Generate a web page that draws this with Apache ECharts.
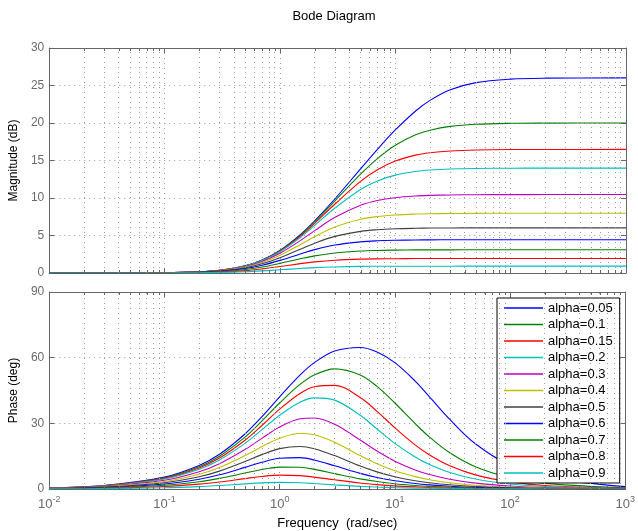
<!DOCTYPE html>
<html>
<head>
<meta charset="utf-8">
<script src="https://cdn.jsdelivr.net/npm/echarts@6/dist/echarts.min.js"></script>
<style>
  html, body { margin: 0; padding: 0; background: #fff; }
  #chart { width: 638px; height: 531px; }
</style>
</head>
<body>
<div id="chart"></div>
<script>
// Frequency samples (rad/sec)
const freq = [0.01,0.03,0.1,0.2,0.3,0.5,0.7,1,1.5,2,3,5,7,10,15,20,30,50,100,200,1000];

const alphaNames = ['alpha=0.05','alpha=0.1','alpha=0.15','alpha=0.2','alpha=0.3','alpha=0.4','alpha=0.5','alpha=0.6','alpha=0.7','alpha=0.8','alpha=0.9'];

// Magnitude (dB)
const mag005 = [0.00,0.00,0.04,0.17,0.37,0.97,1.73,3.00,5.10,6.95,9.90,13.89,16.49,19.07,21.60,23.02,24.43,25.38,25.85,25.98,26.02];
const mag01  = [0.00,0.00,0.04,0.17,0.37,0.96,1.71,2.97,5.02,6.82,9.63,13.18,15.26,17.03,18.42,19.04,19.55,19.83,19.96,19.99,20.00];
const mag015 = [0.00,0.00,0.04,0.17,0.37,0.94,1.68,2.91,4.90,6.62,9.20,12.21,13.76,14.92,15.72,16.03,16.27,16.40,16.46,16.47,16.48];
const mag02  = [0.00,0.00,0.04,0.16,0.36,0.93,1.65,2.84,4.74,6.35,8.66,11.14,12.28,13.05,13.54,13.73,13.87,13.94,13.97,13.98,13.98];
const mag03  = [0.00,0.00,0.04,0.15,0.34,0.87,1.54,2.64,4.32,5.65,7.42,9.03,9.66,10.04,10.27,10.35,10.41,10.44,10.45,10.46,10.46];
const mag04  = [0.00,0.00,0.04,0.14,0.31,0.80,1.40,2.37,3.78,4.84,6.13,7.16,7.53,7.74,7.86,7.90,7.93,7.95,7.96,7.96,7.96];
const mag05  = [0.00,0.00,0.03,0.13,0.28,0.71,1.23,2.04,3.18,3.98,4.88,5.55,5.77,5.89,5.96,5.99,6.01,6.02,6.02,6.02,6.02];
const mag06  = [0.00,0.00,0.03,0.11,0.24,0.60,1.03,1.68,2.54,3.12,3.73,4.15,4.29,4.36,4.40,4.42,4.43,4.43,4.44,4.44,4.44];
const mag07  = [0.00,0.00,0.02,0.09,0.19,0.47,0.80,1.28,1.89,2.28,2.67,2.93,3.01,3.05,3.08,3.09,3.09,3.10,3.10,3.10,3.10];
const mag08  = [0.00,0.00,0.02,0.06,0.13,0.32,0.55,0.86,1.25,1.48,1.70,1.85,1.89,1.91,1.93,1.93,1.94,1.94,1.94,1.94,1.94];
const mag09  = [0.00,0.00,0.01,0.03,0.07,0.17,0.28,0.43,0.61,0.72,0.81,0.88,0.90,0.91,0.91,0.91,0.91,0.92,0.92,0.92,0.92];

// Phase (deg)
const ph005 = [0.54,1.63,5.43,10.74,15.84,25.13,32.99,42.14,52.02,57.72,63.03,64.65,62.58,57.72,49.32,42.14,31.78,20.66,10.74,5.43,1.09];
const ph01  = [0.52,1.55,5.14,10.16,14.98,23.70,30.99,39.29,47.78,52.12,54.87,52.13,46.88,39.29,29.88,23.70,16.53,10.16,5.14,2.58,0.52];
const ph015 = [0.49,1.46,4.85,9.59,14.12,22.28,29.00,36.47,43.63,46.74,47.34,41.82,35.47,27.98,20.15,15.57,10.62,6.45,3.24,1.62,0.33];
const ph02  = [0.46,1.37,4.57,9.02,13.27,20.85,27.02,33.69,39.61,41.63,40.60,33.69,27.41,20.85,14.62,11.17,7.55,4.57,2.29,1.15,0.23];
const ph03  = [0.40,1.20,3.99,7.88,11.56,18.03,23.13,28.30,32.08,32.47,29.58,22.38,17.33,12.72,8.72,6.60,4.43,2.67,1.34,0.67,0.13];
const ph04  = [0.34,1.03,3.42,6.74,9.86,15.26,19.35,23.20,25.35,24.78,21.37,15.26,11.52,8.33,5.65,4.26,2.86,1.72,0.86,0.43,0.09];
const ph05  = [0.29,0.86,2.85,5.60,8.17,12.53,15.70,18.44,19.44,18.43,15.26,10.49,7.82,5.60,3.78,2.85,1.91,1.15,0.57,0.29,0.06];
const ph06  = [0.23,0.69,2.28,4.47,6.50,9.87,12.21,14.04,14.32,13.24,10.62,7.13,5.26,3.75,2.53,1.90,1.27,0.76,0.38,0.19,0.04];
const ph07  = [0.17,0.52,1.71,3.34,4.84,7.28,8.89,10.01,9.91,8.97,7.03,4.64,3.41,2.42,1.63,1.22,0.82,0.49,0.25,0.12,0.03];
const ph08  = [0.11,0.34,1.14,2.22,3.20,4.76,5.74,6.34,6.12,5.44,4.19,2.73,2.00,1.41,0.95,0.71,0.48,0.29,0.14,0.07,0.02];
const ph09  = [0.06,0.17,0.57,1.11,1.59,2.34,2.78,3.01,2.84,2.49,1.89,1.22,0.89,0.63,0.42,0.32,0.21,0.13,0.06,0.03,0.01];

const magSets = [mag005,mag01,mag015,mag02,mag03,mag04,mag05,mag06,mag07,mag08,mag09];
const phSets  = [ph005,ph01,ph015,ph02,ph03,ph04,ph05,ph06,ph07,ph08,ph09];

const colors = ['#0000ff','#008000','#ff0000','#00bfbf','#bf00bf','#bfbf00','#404040','#0000ff','#008000','#ff0000','#00bfbf'];

const FONT = 'Liberation Sans, Arial, Helvetica, sans-serif';
const axisGrey = '#666666';
const labelGrey = '#6a6a6a';
const gridDot = { color: '#9a9a9a', width: 1, type: [1, 4] };

// minor (2..9 per decade) vertical grid positions
const minorX = [];
for (let e = -2; e <= 2; e++) {
  for (let m = 2; m <= 9; m++) minorX.push(+(m * Math.pow(10, e)).toPrecision(3));
}

function decadeLabel(v) {
  const e = Math.round(Math.log10(v));
  return '{b|10}{e|' + e + '}';
}

const xBase = {
  type: 'log', logBase: 10, min: 0.01, max: 1000,
  axisLine: { show: true, onZero: false, lineStyle: { color: axisGrey, width: 1 } },
  axisTick: { show: true, inside: true, length: 5, lineStyle: { color: axisGrey } },
  splitLine: { show: true, lineStyle: gridDot }
};

const series = [];
for (let i = 0; i < alphaNames.length; i++) {
  series.push({
    name: alphaNames[i], type: 'line', xAxisIndex: 0, yAxisIndex: 0,
    data: freq.map((f, k) => [f, magSets[i][k]]),
    symbol: 'none', smooth: 0.35, lineStyle: { width: 1.1, color: colors[i] },
    itemStyle: { color: colors[i] }, z: 3
  });
}
for (let i = 0; i < alphaNames.length; i++) {
  series.push({
    name: alphaNames[i], type: 'line', xAxisIndex: 2, yAxisIndex: 2,
    data: freq.map((f, k) => [f, phSets[i][k]]),
    symbol: 'none', smooth: 0.35, lineStyle: { width: 1.1, color: colors[i] },
    itemStyle: { color: colors[i] }, z: 3
  });
}
// minor grid lines
[0, 2].forEach(function (ax) {
  series.push({
    name: 'minorgrid' + ax, type: 'line', xAxisIndex: ax, yAxisIndex: ax, data: [],
    silent: true, z: 1,
    markLine: {
      silent: true, symbol: ['none', 'none'], label: { show: false },
      lineStyle: gridDot, animation: false,
      data: minorX.map(v => ({ xAxis: v }))
    }
  });
});

const option = {
  animation: false,
  backgroundColor: '#ffffff',
  title: {
    text: 'Bode Diagram', left: 329, top: 5, textAlign: 'center',
    textStyle: { fontFamily: FONT, fontSize: 13, fontWeight: 'normal', color: '#000' }
  },
  legend: {
    data: alphaNames, orient: 'vertical', left: 497, top: 298,
    icon: 'rect', backgroundColor: '#ffffff', borderColor: '#000', borderWidth: 1,
    padding: [2, 7, 2, 7], itemWidth: 39, itemHeight: 1.5, itemGap: 0.5,
    textStyle: { fontFamily: FONT, fontSize: 13, color: '#000', lineHeight: 16 },
    selectedMode: false
  },
  grid: [
    { left: 45, top: 48, width: 581, height: 225, containLabel: false },
    { left: 45, top: 292, width: 581, height: 198, containLabel: false }
  ],
  xAxis: [
    Object.assign({}, xBase, { gridIndex: 0, position: 'bottom', axisLabel: { show: false } }),
    Object.assign({}, xBase, { gridIndex: 0, position: 'top', axisLabel: { show: false }, splitLine: { show: false } }),
    Object.assign({}, xBase, {
      gridIndex: 1, position: 'bottom',
      name: 'Frequency  (rad/sec)', nameLocation: 'middle', nameGap: 28,
      nameTextStyle: { fontFamily: FONT, fontSize: 13, color: '#000' },
      axisLabel: {
        show: true, margin: 6, formatter: decadeLabel,
        rich: {
          b: { fontFamily: FONT, fontSize: 13, color: labelGrey, lineHeight: 18 },
          e: { fontFamily: FONT, fontSize: 9, color: labelGrey, lineHeight: 10, verticalAlign: 'top' }
        }
      }
    }),
    Object.assign({}, xBase, { gridIndex: 1, position: 'top', axisLabel: { show: false }, splitLine: { show: false } })
  ],
  yAxis: [
    {
      type: 'value', gridIndex: 0, min: 0, max: 30, interval: 5, position: 'left',
      name: 'Magnitude (dB)', nameLocation: 'middle', nameGap: 24,
      nameTextStyle: { fontFamily: FONT, fontSize: 12, color: '#000' },
      axisLine: { show: true, lineStyle: { color: axisGrey } },
      axisTick: { show: true, inside: true, length: 5, lineStyle: { color: axisGrey } },
      axisLabel: { fontFamily: FONT, fontSize: 12, color: labelGrey, margin: 5 },
      splitLine: { show: true, lineStyle: gridDot }
    },
    {
      type: 'value', gridIndex: 0, min: 0, max: 30, interval: 5, position: 'right',
      axisLine: { show: true, lineStyle: { color: axisGrey } },
      axisTick: { show: true, inside: true, length: 5, lineStyle: { color: axisGrey } },
      axisLabel: { show: false }, splitLine: { show: false }
    },
    {
      type: 'value', gridIndex: 1, min: 0, max: 90, interval: 30, position: 'left',
      name: 'Phase (deg)', nameLocation: 'middle', nameGap: 24,
      nameTextStyle: { fontFamily: FONT, fontSize: 12, color: '#000' },
      axisLine: { show: true, lineStyle: { color: axisGrey } },
      axisTick: { show: true, inside: true, length: 5, lineStyle: { color: axisGrey } },
      axisLabel: { fontFamily: FONT, fontSize: 12, color: labelGrey, margin: 5 },
      splitLine: { show: true, lineStyle: gridDot }
    },
    {
      type: 'value', gridIndex: 1, min: 0, max: 90, interval: 30, position: 'right',
      axisLine: { show: true, lineStyle: { color: axisGrey } },
      axisTick: { show: true, inside: true, length: 5, lineStyle: { color: axisGrey } },
      axisLabel: { show: false }, splitLine: { show: false }
    }
  ],
  series: series
};

const chart = echarts.init(document.getElementById('chart'), null, { renderer: 'canvas' });
chart.setOption(option);

// minor tick marks (2..9 per decade) along the top and bottom edges of both panels
const tickEls = [];
[[0, 0, 30], [2, 2, 90]].forEach(function (cfg) {
  const xa = cfg[0], ya = cfg[1], ymax = cfg[2];
  const yBot = chart.convertToPixel({ yAxisIndex: ya }, 0);
  const yTop = chart.convertToPixel({ yAxisIndex: ya }, ymax);
  minorX.forEach(function (v) {
    const px = Math.round(chart.convertToPixel({ xAxisIndex: xa }, v)) + 0.5;
    tickEls.push({ type: 'line', silent: true, z: 5,
      shape: { x1: px, y1: yBot, x2: px, y2: yBot - 3 },
      style: { stroke: axisGrey, lineWidth: 1 } });
    tickEls.push({ type: 'line', silent: true, z: 5,
      shape: { x1: px, y1: yTop, x2: px, y2: yTop + 3 },
      style: { stroke: axisGrey, lineWidth: 1 } });
  });
});
chart.setOption({ graphic: tickEls });
</script>
</body>
</html>
